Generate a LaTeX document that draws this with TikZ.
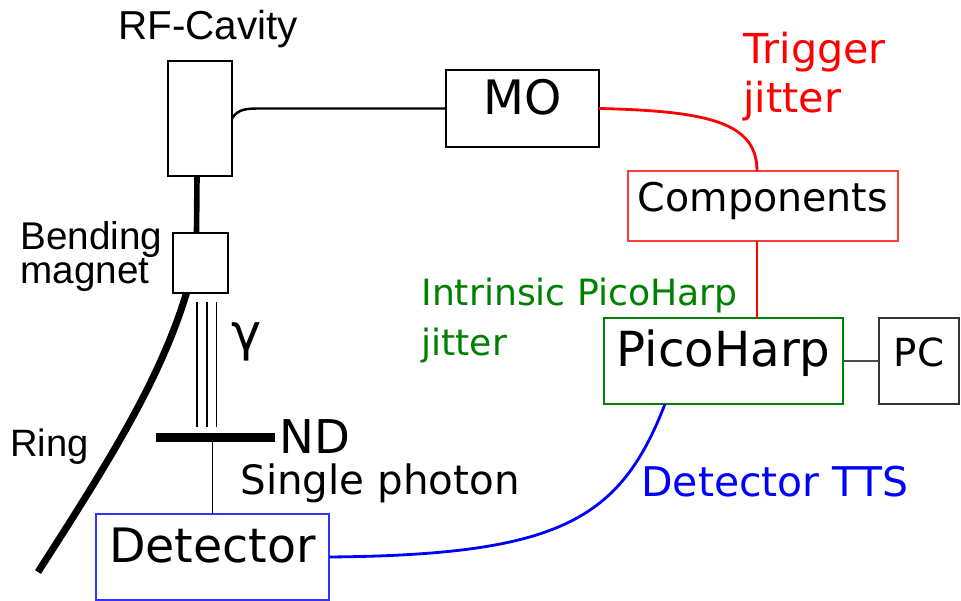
\documentclass[tikz,border=0pt]{standalone}
\usepackage{fontspec}
\setmainfont{DejaVu Sans}
\newfontfamily\arialfont{Liberation Sans}
\usetikzlibrary{calc,positioning}
\definecolor{JitRed}{RGB}{255,0,0}
\definecolor{JitGreen}{RGB}{0,128,0}
\definecolor{JitBlue}{RGB}{0,0,255}
\definecolor{CompRed}{RGB}{255,60,60}
\definecolor{DetBlue}{RGB}{50,50,255}
\newcommand\tightlines{\lineskiplimit-100pt\relax}

\begin{document}
\begin{tikzpicture}[x=0.02cm,y=-0.02cm,node distance=0.72cm]
  \tikzset{unit/.style={draw,line width=1.1pt,inner sep=0pt,outer sep=0pt,text height=0.73em,text depth=0.1em},
    lbl/.style={inner sep=0pt,anchor=base west,align=left},
    wire/.style={line width=1.4pt}}
  \useasboundingbox (0,0) rectangle (961,601);
  % boxes
  \node[unit,minimum width=1.28cm,minimum height=2.30cm] (cavity) at (200,118.5) {};
  \node[unit,minimum width=1.10cm,minimum height=1.20cm] (magnet) at (200.5,263) {};
  \node[unit,minimum width=3.06cm,minimum height=1.54cm,font=\fontsize{27}{27}\selectfont] (MO) at (522.5,108.5) {MO};
  \node[unit,draw=CompRed,line width=0.9pt,minimum width=5.40cm,minimum height=1.40cm,font=\fontsize{22.5}{22.5}\selectfont] (comp) at (763,206) {Components};
  \node[unit,draw=JitGreen,minimum width=4.78cm,minimum height=1.72cm,font=\fontsize{27.5}{27.5}\selectfont] (pico) at (723.5,361) {PicoHarp};
  \node[unit,draw=black!80,minimum width=1.60cm,minimum height=1.72cm,font=\fontsize{22}{22}\selectfont,right=of pico] (pc) {PC};
  \node[unit,draw=DetBlue,minimum width=4.66cm,minimum height=1.72cm,font=\fontsize{27}{27}\selectfont] (det) at (212.5,557) {Detector};
  \node[fill,inner sep=0pt,minimum width=2.38cm,minimum height=0.18cm] (nd) at (215.5,437.5) {};
  \coordinate (ringend) at (38,572);
  \coordinate (trig) at ($(comp.south)+(-6,0)$);
  % beam and ring
  \draw[line width=3.2pt] ([xshift=-0.06cm]cavity.south) -- ([xshift=-0.08cm]magnet.north);
  \draw[line width=4pt] ([xshift=-0.28cm]magnet.south) .. controls (160,380) and (110,460) .. (ringend);
  \foreach \dx in {-3.5,6.5,16}
    \draw[line width=1.1pt] ($(magnet.south)+(\dx,9)$) -- ($(magnet.south |- nd.north)+(\dx,-6)$);
  \draw[line width=1.1pt] (nd.south -| det.north) -- (det.north);
  % signal lines
  \draw[wire] (cavity.east) to[out=60,in=180] ++(28,-10) -- (MO.west);
  \draw[JitRed,line width=1.6pt] (MO.east) .. controls (710,111) and ($(comp.north)+(-6,-48)$) .. ($(comp.north)+(-6,0)$);
  \draw[JitRed,line width=1.6pt] (trig) -- (trig |- pico.north);
  \draw[line width=0.7pt,black!70] (pico.east) -- (pc.west);
  \draw[JitBlue,line width=1.6pt] ([xshift=-1.17cm]pico.south) .. controls (620,520) and (560,555) .. (det.east);
  % labels
  \node[lbl,font=\arialfont\fontsize{23}{24}\selectfont] (rftxt) at (118,40) {RF-Cavity};
  \node[lbl,font=\arialfont\fontsize{22}{19.5}\selectfont\tightlines] (bendtxt) at (20,284) {Bending\\magnet};
  \node[lbl,font=\arialfont\fontsize{21.7}{24}\selectfont] (ringtxt) at (10,457) {Ring};
  \node[lbl,font=\fontsize{29}{29}\selectfont] (gammatxt) at (231,351) {γ};
  \node[lbl,font=\fontsize{26.5}{26.5}\selectfont] (ndtxt) at (279,454) {ND};
  \node[lbl,font=\fontsize{23}{23}\selectfont] (singletxt) at (240,495) {Single photon};
  \node[lbl,font=\fontsize{23.3}{23.3}\selectfont,text=JitBlue] (ttstxt) at (641,497) {Detector TTS};
  \node[lbl,font=\fontsize{23.5}{28.3}\selectfont,text=JitRed] (trigtxt) at (743,113) {Trigger\\jitter};
  \node[lbl,font=\fontsize{20.6}{29}\selectfont,text=JitGreen] (picotxt) at (421,356) {Intrinsic PicoHarp\\jitter};
\end{tikzpicture}
\end{document}
